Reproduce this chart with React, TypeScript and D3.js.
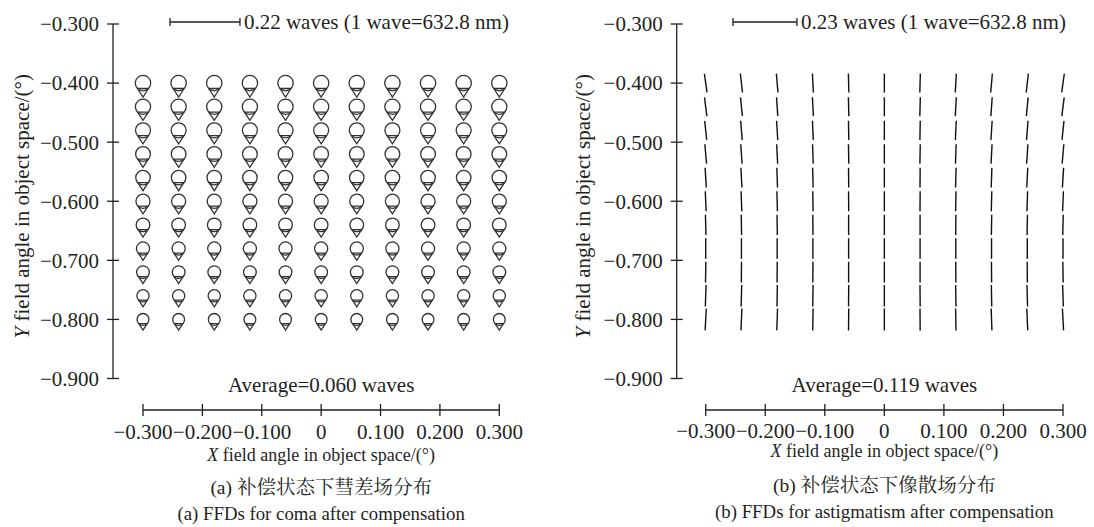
import React from "react";
import * as d3 from "d3";

// ---------- data ----------
const xFields = [-0.3, -0.24, -0.18, -0.12, -0.06, 0, 0.06, 0.12, 0.18, 0.24, 0.3];
const yFields = [-0.4, -0.44, -0.48, -0.52, -0.56, -0.6, -0.64, -0.68, -0.72, -0.76, -0.8];

const xTicks = [-0.3, -0.2, -0.1, 0, 0.1, 0.2, 0.3];
const xTickLabels = ["\u22120.300", "\u22120.200", "\u22120.100", "0", "0.100", "0.200", "0.300"];
const yTicks = [-0.3, -0.4, -0.5, -0.6, -0.7, -0.8, -0.9];
const yTickLabels = ["\u22120.300", "\u22120.400", "\u22120.500", "\u22120.600", "\u22120.700", "\u22120.800", "\u22120.900"];

// coma magnitude (waves) per row (top -> bottom)
const comaRowWaves = [0.068, 0.067, 0.066, 0.065, 0.064, 0.062, 0.06, 0.058, 0.056, 0.054, 0.052];
// astigmatism magnitude (waves) per row (top -> bottom)
const astigRowWaves = [0.068, 0.068, 0.069, 0.07, 0.071, 0.072, 0.073, 0.074, 0.075, 0.077, 0.079];
// astigmatism line orientation (deg, clockwise from vertical), rows top->bottom, cols left->right
const astigAngles = [
  [-8, -6.5, -5, -3, -1.5, 0, 1.5, 3, 5, 6.5, 8],
  [-7, -5.5, -4, -3, -1.5, 0, 1.5, 3, 4, 5.5, 7],
  [-6, -4.5, -3.5, -2.5, -1, 0, 1, 2.5, 3.5, 4.5, 6],
  [-5, -4, -3, -2, -1, 0, 1, 2, 3, 4, 5],
  [-3.5, -3, -2, -1.5, -0.5, 0, 0.5, 1.5, 2, 3, 3.5],
  [-2.5, -2, -1.5, -1, -0.5, 0, 0.5, 1, 1.5, 2, 2.5],
  [-1.5, -1, -1, -0.5, 0, 0, 0, 0.5, 1, 1, 1.5],
  [0, 0, 0, 0, 0, 0, 0, 0, 0, 0, 0],
  [1, 0.5, 0.5, 0.5, 0, 0, 0, -0.5, -0.5, -0.5, -1],
  [2, 1.5, 1, 1, 0.5, 0, -0.5, -1, -1, -1.5, -2],
  [3, 2.5, 2, 1, 0.5, 0, -0.5, -1, -2, -2.5, -3],
];

const comaScaleWaves = 0.22;
const astigScaleWaves = 0.23;
const comaAverage = "Average=0.060 waves";
const astigAverage = "Average=0.119 waves";
const scaleTextA = "0.22 waves (1 wave=632.8 nm)";
const scaleTextB = "0.23 waves (1 wave=632.8 nm)";
const captionsA = ["(a) \u8865\u507f\u72b6\u6001\u4e0b\u5f57\u5dee\u573a\u5206\u5e03", "(a) FFDs for coma after compensation"];
const captionsB = ["(b) \u8865\u507f\u72b6\u6001\u4e0b\u50cf\u6563\u573a\u5206\u5e03", "(b) FFDs for astigmatism after compensation"];

// ---------- styles ----------
const FONT = "'Liberation Serif', 'Times New Roman', serif";
const CJK = "'Liberation Serif', 'Noto Serif CJK SC', 'Noto Sans CJK SC', serif";
const INK = "#231f20";

type PanelProps = {
  xRange: [number, number];
  yAxisX: number;
  yLabelX: number;
  xLabelY: number;
  tickLabelY: number;
  capY: [number, number];
  barX: number;
  pxPerWave: number;
  scaleWaves: number;
  scaleText: string;
  average: string;
  captions: string[];
  kind: "coma" | "astig";
};

const yRange: [number, number] = [24, 378.5];
const xAxisY = 410;

function Panel(p: PanelProps) {
  const x = d3.scaleLinear().domain([-0.3, 0.3]).range(p.xRange);
  const y = d3.scaleLinear().domain([-0.3, -0.9]).range(yRange);
  const cx = (p.xRange[0] + p.xRange[1]) / 2;
  const barLen = p.scaleWaves * p.pxPerWave;
  const barY = 22;

  const marks: React.ReactNode[] = [];
  yFields.forEach((yf, ri) => {
    xFields.forEach((xf, ci) => {
      const px = x(xf);
      const py = y(yf);
      if (p.kind === "coma") {
        const L = comaRowWaves[ri] * p.pxPerWave;
        const r = L / 2.8;
        const h = 0.7 * r;
        const hw = Math.sqrt(1 - 0.49) * r;
        const tri = d3.path();
        tri.moveTo(px - hw, py + h);
        tri.lineTo(px, py + 1.8 * r);
        tri.lineTo(px + hw, py + h);
        tri.closePath();
        marks.push(
          <g key={`${ri}-${ci}`} fill="none" stroke="#333" strokeWidth={1.3}>
            <circle cx={px} cy={py} r={r} />
            <path d={tri.toString()} />
          </g>
        );
      } else {
        const L = astigRowWaves[ri] * p.pxPerWave;
        marks.push(
          <line
            key={`${ri}-${ci}`}
            x1={0}
            y1={-L / 2}
            x2={0}
            y2={L / 2}
            stroke="#111"
            strokeWidth={1.4}
            transform={`translate(${px},${py}) rotate(${astigAngles[ri][ci]})`}
          />
        );
      }
    });
  });

  return (
    <g fontFamily={FONT} fill={INK}>
      {/* scale bar */}
      <g stroke={INK} strokeWidth={1.3}>
        <line x1={p.barX} y1={barY} x2={p.barX + barLen} y2={barY} />
        <line x1={p.barX} y1={barY - 4} x2={p.barX} y2={barY + 4} />
        <line x1={p.barX + barLen} y1={barY - 4} x2={p.barX + barLen} y2={barY + 4} />
      </g>
      <text x={p.barX + barLen + 4} y={barY} dy="0.35em" fontSize={21}>
        {p.scaleText}
      </text>

      {/* y axis */}
      <line x1={p.yAxisX} y1={yRange[0]} x2={p.yAxisX} y2={yRange[1]} stroke={INK} strokeWidth={1.3} />
      {yTicks.map((t, i) => (
        <g key={t}>
          <line x1={p.yAxisX - 6} x2={p.yAxisX + 6} y1={y(t)} y2={y(t)} stroke={INK} strokeWidth={1.3} />
          <text x={p.yAxisX - 14} y={y(t)} dy="0.35em" textAnchor="end" fontSize={21}>
            {yTickLabels[i]}
          </text>
        </g>
      ))}
      <text
        transform={`translate(${p.yLabelX},${(yRange[0] + yRange[1]) / 2 + 5}) rotate(-90)`}
        textAnchor="middle"
        dy="0.35em"
        fontSize={21}
      >
        <tspan fontStyle="italic">Y</tspan> field angle in object space/(°)
      </text>

      {/* marks */}
      {marks}

      {/* average */}
      <text x={cx} y={385} dy="0.35em" textAnchor="middle" fontSize={21}>
        {p.average}
      </text>

      {/* x axis */}
      <line x1={p.xRange[0]} x2={p.xRange[1]} y1={xAxisY} y2={xAxisY} stroke={INK} strokeWidth={1.3} />
      {xTicks.map((t, i) => (
        <g key={t}>
          <line x1={x(t)} x2={x(t)} y1={xAxisY - 6} y2={xAxisY + 6} stroke={INK} strokeWidth={1.3} />
          <text x={x(t)} y={p.tickLabelY} dy="0.35em" textAnchor="middle" fontSize={21}>
            {xTickLabels[i]}
          </text>
        </g>
      ))}
      <text x={cx} y={p.xLabelY} dy="0.35em" textAnchor="middle" fontSize={18}>
        <tspan fontStyle="italic">X</tspan> field angle in object space/(°)
      </text>

      {/* captions */}
      <text x={cx} y={p.capY[0]} dy="0.35em" textAnchor="middle" fontSize={19.5} fontFamily={CJK}>
        {p.captions[0]}
      </text>
      <text x={cx} y={p.capY[1]} dy="0.35em" textAnchor="middle" fontSize={18.8}>
        {p.captions[1]}
      </text>
    </g>
  );
}

export default function App() {
  return (
    <svg
      width={1094}
      height={527}
      viewBox="0 0 1094 527"
      style={{ position: "absolute", left: 0, top: 0, background: "#fff" }}
    >
      <rect width={1094} height={527} fill="#fff" />
      <Panel
        xRange={[143, 499.3]}
        yAxisX={113}
        yLabelX={22}
        xLabelY={455}
        tickLabelY={431.5}
        capY={[487, 513]}
        barX={170}
        pxPerWave={318}
        scaleWaves={comaScaleWaves}
        scaleText={scaleTextA}
        average={comaAverage}
        captions={captionsA}
        kind="coma"
      />
      <Panel
        xRange={[705.7, 1063]}
        yAxisX={676.7}
        yLabelX={583}
        xLabelY={451}
        tickLabelY={431}
        capY={[485, 511]}
        barX={733}
        pxPerWave={278}
        scaleWaves={astigScaleWaves}
        scaleText={scaleTextB}
        average={astigAverage}
        captions={captionsB}
        kind="astig"
      />
    </svg>
  );
}
